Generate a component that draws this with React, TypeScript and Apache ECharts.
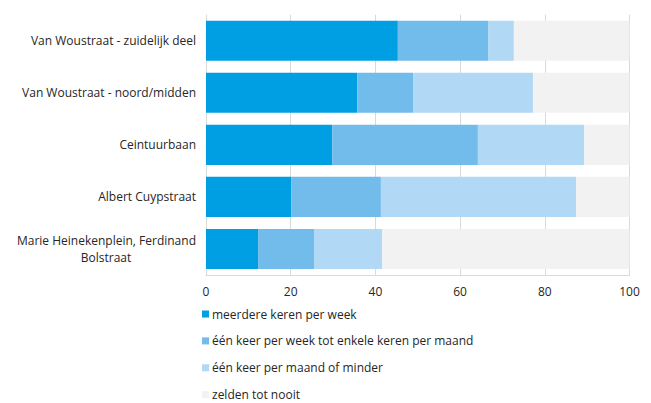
import React, { useEffect, useRef } from "react";
import * as echarts from "echarts";

const categories = [
  "Van Woustraat - zuidelijk deel",
  "Van Woustraat - noord/midden",
  "Ceintuurbaan",
  "Albert Cuypstraat",
  "Marie Heinekenplein, Ferdinand\nBolstraat",
];
const seriesNames = [
  "meerdere keren per week",
  "één keer per week tot enkele keren per maand",
  "één keer per maand of minder",
  "zelden tot nooit",
];
const meerdere = [45.3, 35.7, 29.8, 20.1, 12.3];
const eenPerWeek = [21.3, 13.2, 34.4, 21.2, 13.2];
const eenPerMaand = [6.1, 28.3, 25.1, 46.1, 16.1];
const zelden = [27.3, 22.8, 10.7, 12.6, 58.4];
const xTicks = [0, 20, 40, 60, 80, 100];

const colors = ["#009FE3", "#71BCEB", "#B1D8F4", "#F2F2F2"];
const FONT = "'Open Sans', sans-serif";
const FS = 12;

export default function App() {
  const ref = useRef<HTMLDivElement>(null);
  useEffect(() => {
    const chart = echarts.init(ref.current!, null, { renderer: "svg" });
    const values = [meerdere, eenPerWeek, eenPerMaand, zelden];
    chart.setOption({
      animation: false,
      textStyle: { fontFamily: FONT },
      grid: { left: 206, right: 21.5, top: 14.7, bottom: 128 },
      xAxis: {
        type: "value",
        min: xTicks[0],
        max: xTicks[xTicks.length - 1],
        interval: 20,
        axisLine: { show: true, lineStyle: { color: "#D9D9D9", width: 1 } },
        axisTick: { show: false },
        splitLine: { show: true, lineStyle: { color: "#D9D9D9", width: 1 } },
        axisLabel: { color: "#262626", fontSize: FS, fontFamily: FONT, margin: 10 },
      },
      yAxis: {
        type: "category",
        data: categories,
        inverse: true,
        axisLine: { show: false },
        axisTick: { show: false },
        axisLabel: {
          color: "#262626",
          fontSize: FS,
          fontFamily: FONT,
          margin: 10,
          lineHeight: 17,
          formatter: (v: string) => {
            if (v.indexOf("\n") >= 0) {
              const [a, b] = v.split("\n");
              return `{a|${a}}\n{b|${b}}`;
            }
            return v;
          },
          rich: {
            a: { fontSize: FS, fontFamily: FONT, color: "#262626", lineHeight: 17 },
            b: {
              fontSize: FS,
              fontFamily: FONT,
              color: "#262626",
              lineHeight: 17,
              width: 180,
              align: "center",
            },
          },
        },
      },
      legend: {
        orient: "vertical",
        left: 197,
        top: 305,
        height: 120,
        padding: [3, 5, 0, 5],
        itemWidth: 7,
        itemHeight: 7,
        itemGap: 14.9,
        icon: "rect",
        textStyle: { color: "#262626", fontSize: FS, fontFamily: FONT, lineHeight: 12, padding: [0, 0, 0, -2] },
        data: seriesNames,
      },
      series: seriesNames.map((name, i) => ({
        name,
        type: "bar",
        stack: "total",
        data: values[i],
        barCategoryGap: "23%",
        itemStyle: { color: colors[i] },
        emphasis: { disabled: true },
      })),
    });
    return () => chart.dispose();
  }, []);
  return <div ref={ref} style={{ width: 651, height: 403, position: "absolute", left: 0, top: 0 }} />;
}
